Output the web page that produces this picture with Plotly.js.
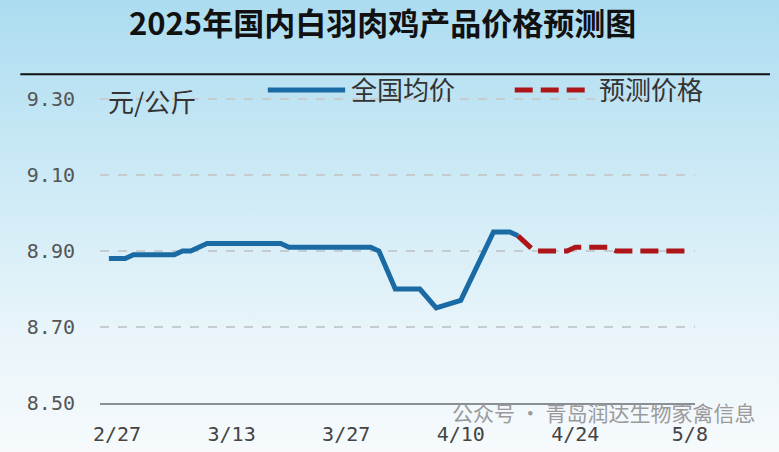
<!DOCTYPE html>
<html>
<head>
<meta charset="utf-8">
<script src="https://cdn.plot.ly/plotly-3.0.1.min.js"></script>
<style>
  html, body { margin: 0; padding: 0; }
  body { width: 779px; height: 452px; background: linear-gradient(to bottom, #acdcf0 0%, #cdeaf6 40%, #eaf5fa 75%, #f6fafc 100%); }
  #chart { width: 779px; height: 452px; }
</style>
</head>
<body>
<div id="chart"></div>
<script>
// 全国均价 (元/公斤)
var avgDates = ['2025-02-26', '2025-02-28', '2025-03-01', '2025-03-06', '2025-03-07', '2025-03-08',
                '2025-03-10', '2025-03-19', '2025-03-20', '2025-03-30', '2025-03-31', '2025-04-02',
                '2025-04-05', '2025-04-07', '2025-04-10', '2025-04-14', '2025-04-16', '2025-04-17'];
var avgPrice = [8.88, 8.88, 8.89, 8.89, 8.90, 8.90,
                8.92, 8.92, 8.91, 8.91, 8.90, 8.80,
                8.80, 8.75, 8.77, 8.95, 8.95, 8.94];

// 预测价格
var fcDates = ['2025-04-17', '2025-04-18', '2025-04-19', '2025-04-22', '2025-04-23', '2025-04-24',
               '2025-04-28', '2025-04-29', '2025-05-08'];
var fcPrice = [8.94, 8.92, 8.90, 8.90, 8.90, 8.91,
               8.91, 8.90, 8.90];

var tickDates = ['2025-02-27', '2025-03-13', '2025-03-27', '2025-04-10', '2025-04-24', '2025-05-08'];
var tickLabels = ['2/27', '3/13', '3/27', '4/10', '4/24', '5/8'];
var yTicks = [8.50, 8.70, 8.90, 9.10, 9.30];
var yLabels = ['8.50', '8.70', '8.90', '9.10', '9.30'];

var blue = '#1a6aa3';
var red = '#ad1519';
var redDash = '18px,8px';

var avgLine = {
  x: avgDates, y: avgPrice,
  mode: 'lines', name: '全国均价', showlegend: false,
  line: { color: blue, width: 5 }
};
var fcLine = {
  x: fcDates, y: fcPrice,
  mode: 'lines', name: '预测价格', showlegend: false,
  line: { color: red, width: 5, dash: redDash }
};

// legend drawn by hand so the key lines are as long as in the original
var legendY = 0.867;

var layout = {
  width: 779, height: 452,
  paper_bgcolor: 'rgba(0,0,0,0)',
  plot_bgcolor: 'rgba(0,0,0,0)',
  margin: { l: 100, r: 84, t: 42, b: 49 },
  font: { family: 'Noto Sans CJK SC, sans-serif', color: '#333' },
  showlegend: false,
  xaxis: {
    type: 'date',
    range: ['2025-02-24 22:00', '2025-05-08 15:00'],
    tickvals: tickDates, ticktext: tickLabels,
    showgrid: false, zeroline: false,
    showline: true, linecolor: '#8a8f93', linewidth: 2,
    ticks: '', ticklabelstandoff: 12,
    tickfont: { family: 'DejaVu Sans Mono, monospace', size: 20, color: '#444' }
  },
  yaxis: {
    range: [8.5, 9.45],
    tickvals: yTicks, ticktext: yLabels,
    showgrid: true, gridcolor: '#c4ccd0', griddash: 'dash', gridwidth: 1.5,
    zeroline: false, showline: false,
    ticks: '', ticklabelstandoff: 24,
    tickfont: { family: 'DejaVu Sans Mono, monospace', size: 20, color: '#555' }
  },
  shapes: [
    { type: 'line', xref: 'paper', yref: 'paper', x0: -0.134, x1: 1.126, y0: 0.911, y1: 0.911,
      line: { color: '#111', width: 2 } },
    { type: 'line', xref: 'paper', yref: 'paper', x0: 0.282, x1: 0.412, y0: legendY, y1: legendY,
      line: { color: blue, width: 5 } },
    { type: 'line', xref: 'paper', yref: 'paper', x0: 0.697, x1: 0.815, y0: legendY, y1: legendY,
      line: { color: red, width: 5, dash: redDash } }
  ],
  annotations: [
    { text: '<b>2025年国内白羽肉鸡产品价格预测图</b>', xref: 'paper', yref: 'paper',
      x: 0.474, y: 1.058, xanchor: 'center', yanchor: 'middle', showarrow: false,
      font: { size: 31, color: '#111', family: 'Noto Sans CJK SC, sans-serif' } },
    { text: '全国均价', xref: 'paper', yref: 'paper', x: 0.418, y: legendY + 0.003,
      xanchor: 'left', yanchor: 'middle', showarrow: false,
      font: { size: 26, color: '#333' } },
    { text: '预测价格', xref: 'paper', yref: 'paper', x: 0.836, y: legendY + 0.003,
      xanchor: 'left', yanchor: 'middle', showarrow: false,
      font: { size: 26, color: '#333' } },
    { text: '元/公斤', xref: 'paper', yref: 'paper', x: 0.01, y: 0.838,
      xanchor: 'left', yanchor: 'middle', showarrow: false,
      font: { size: 26, color: '#333' } },
    { text: '公众号 · 青岛润达生物家禽信息', xref: 'paper', yref: 'paper', x: 1.104, y: -0.024,
      xanchor: 'right', yanchor: 'middle', showarrow: false,
      font: { size: 21, color: '#9a9a9a' } }
  ]
};

Plotly.newPlot('chart', [avgLine, fcLine], layout, { displayModeBar: false, staticPlot: true });
</script>
</body>
</html>
